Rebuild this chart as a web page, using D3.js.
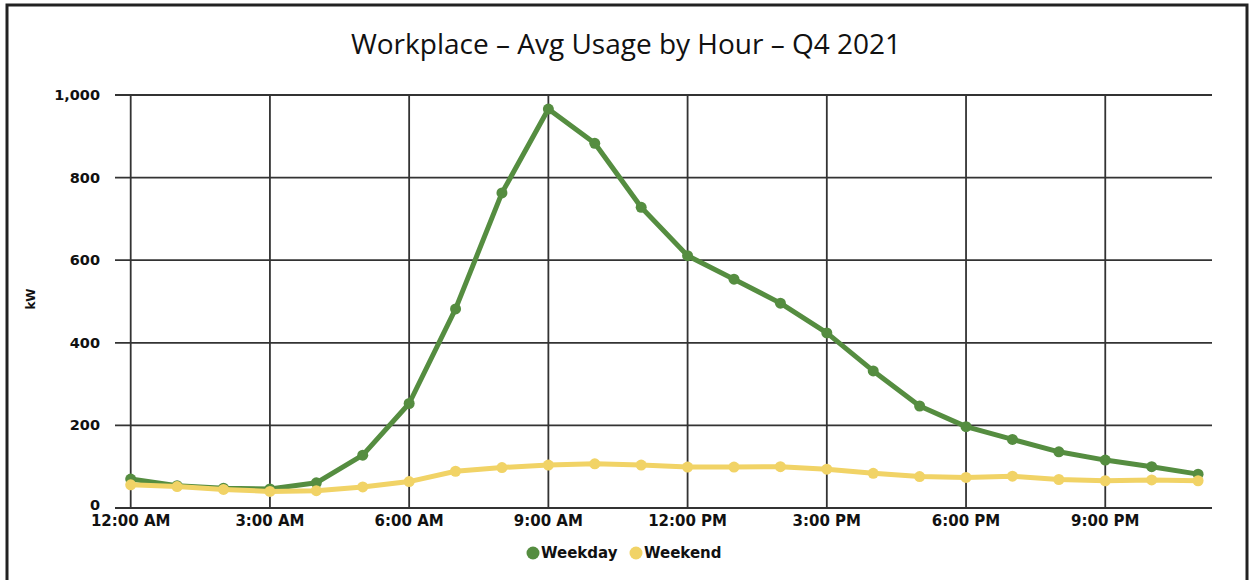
<!DOCTYPE html>
<html>
<head>
<meta charset="utf-8">
<script src="https://cdn.jsdelivr.net/npm/d3@7"></script>
<style>
  html, body { margin: 0; padding: 0; background: #fff; }
  svg { display: block; }
</style>
</head>
<body>
<svg id="chart" width="1251" height="580"></svg>
<script>
const hours = d3.range(0, 24);
const weekday = [70, 54, 48, 46, 61, 128, 253, 482, 763, 966, 883, 728, 611, 554, 496, 424, 332, 247, 197, 166, 136, 116, 100, 82];
const weekend = [56, 52, 45, 40, 42, 51, 64, 89, 98, 104, 107, 104, 99, 99, 100, 94, 84, 76, 74, 77, 69, 66, 68, 66];
const xTickHours = [0, 3, 6, 9, 12, 15, 18, 21];
const xTickLabels = ["12:00 AM", "3:00 AM", "6:00 AM", "9:00 AM", "12:00 PM", "3:00 PM", "6:00 PM", "9:00 PM"];
const yTicks = [0, 200, 400, 600, 800, 1000];
const seriesNames = ["Weekday", "Weekend"];
const seriesColors = ["#558d40", "#f1d366"];

const svg = d3.select("#chart");

// outer frame
svg.append("rect").attr("x", 7).attr("y", 5).attr("width", 1240).attr("height", 580)
  .attr("fill", "none").attr("stroke", "#222").attr("stroke-width", 3);

const x = d3.scaleLinear().domain([0, 23.3]).range([130.7, 1212]);
const y = d3.scaleLinear().domain([0, 1000]).range([508, 95]);

// title
svg.append("text").attr("x", 626).attr("y", 54).attr("text-anchor", "middle")
  .attr("font-family", "'Open Sans', sans-serif").attr("font-size", 28).attr("fill", "#111")
  .text("Workplace – Avg Usage by Hour – Q4 2021");

// horizontal grid
const gridColor = "#333";
svg.append("g").selectAll("line").data(yTicks).join("line")
  .attr("x1", 115).attr("x2", 1212)
  .attr("y1", d => y(d)).attr("y2", d => y(d))
  .attr("stroke", gridColor).attr("stroke-width", 1.8);

// vertical grid
svg.append("g").selectAll("line").data(xTickHours).join("line")
  .attr("x1", d => x(d)).attr("x2", d => x(d))
  .attr("y1", y(1000)).attr("y2", y(0))
  .attr("stroke", gridColor).attr("stroke-width", 1.8);

const tickFont = "'DejaVu Sans', sans-serif";
// y labels
svg.append("g").selectAll("text").data(yTicks).join("text")
  .attr("x", 100).attr("y", d => y(d) + 5 - (d === 0 ? 3 : 0))
  .attr("text-anchor", "end").attr("font-family", tickFont).attr("font-weight", "bold")
  .attr("font-size", 14.5).attr("fill", "#111")
  .text(d => d3.format(",")(d));

// x labels
svg.append("g").selectAll("text").data(xTickHours).join("text")
  .attr("x", d => x(d)).attr("y", 526)
  .attr("text-anchor", "middle").attr("font-family", tickFont).attr("font-weight", "bold")
  .attr("font-size", 15).attr("fill", "#111")
  .text((d, i) => xTickLabels[i]);

// y axis title
svg.append("text").attr("transform", "translate(35,299) rotate(-90)")
  .attr("text-anchor", "middle").attr("font-family", tickFont).attr("font-weight", "bold")
  .attr("font-size", 12).attr("fill", "#111").text("kW");

// lines
const line = d3.line().x((d, i) => x(hours[i])).y(d => y(d));
[weekday, weekend].forEach((vals, k) => {
  const g = svg.append("g");
  g.append("path").datum(vals).attr("d", line).attr("fill", "none")
    .attr("stroke", seriesColors[k]).attr("stroke-width", 5).attr("stroke-linejoin", "round");
  g.selectAll("circle").data(vals).join("circle")
    .attr("cx", (d, i) => x(hours[i])).attr("cy", d => y(d)).attr("r", 5.5)
    .attr("fill", seriesColors[k]);
});

// legend
const legendX = [533, 636];
seriesNames.forEach((name, k) => {
  svg.append("circle").attr("cx", legendX[k]).attr("cy", 553).attr("r", 6.5).attr("fill", seriesColors[k]);
  svg.append("text").attr("x", legendX[k] + 8).attr("y", 558)
    .attr("font-family", tickFont).attr("font-weight", "bold").attr("font-size", 15)
    .attr("fill", "#111").text(name);
});
</script>
</body>
</html>
